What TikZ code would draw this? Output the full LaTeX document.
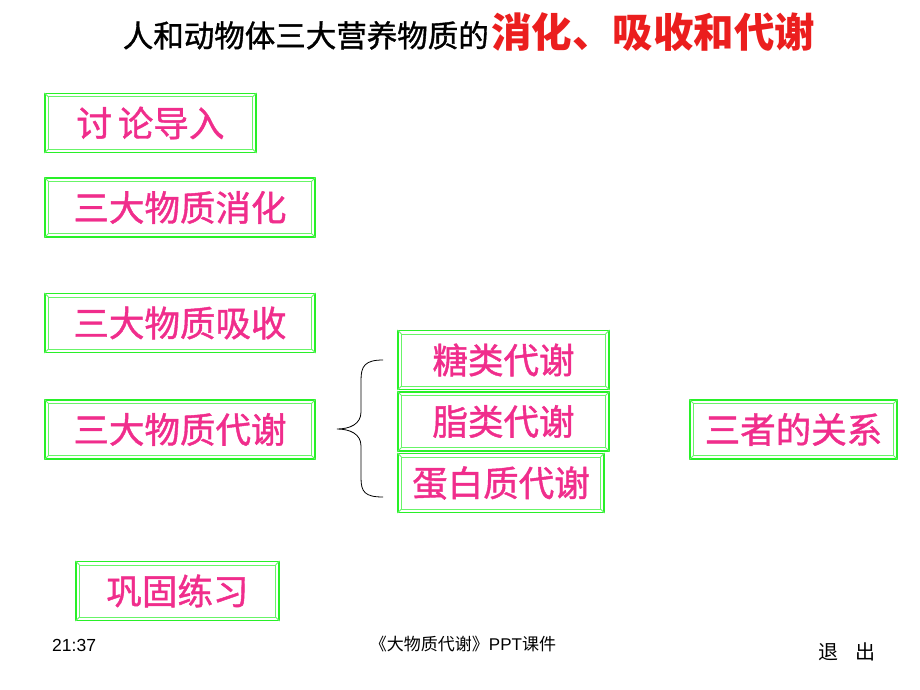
\documentclass[tikz,border=0pt]{standalone}
\usepackage{fontspec}
\setmainfont{Liberation Sans}
\newfontfamily\cjk{Noto Sans CJK SC}
\newfontfamily\cjkmid{Noto Sans CJK SC}[FakeBold=1.2]
\definecolor{boxgreen}{RGB}{40,240,40}
\definecolor{txtpink}{RGB}{240,45,140}
\definecolor{ttlred}{RGB}{235,30,30}
\tikzset{
  panel/.style={draw=boxgreen,line width=1.2pt,minimum height=59pt,inner sep=0pt,
    text=txtpink,font=\cjkmid\fontsize{35.5}{38}\selectfont},
  rim/.style={draw=boxgreen!70,line width=0.8pt}
}

\begin{document}
\begin{tikzpicture}[x=1pt,y=-1pt]
\useasboundingbox (0,0) rectangle (920,690);

% title
\node[anchor=base east,inner sep=1pt,font=\cjkmid\fontsize{30.5}{33}\selectfont] (ttl) at (490,47) {人和动物体三大营养物质的};
\node[anchor=base west,inner sep=1pt,font=\cjk\bfseries\fontsize{40.5}{43}\selectfont,text=ttlred] (ttlb) at (490,48) {消化、吸收和代谢};

% left column
\node[panel,minimum width=211] (intro) at (150.5,123) {讨\,论导入};
\node[panel,minimum width=270] (dig) at (180,207.5) {三大物质消化};
\node[panel,minimum width=270] (abs) at (180,323) {三大物质吸收};
\node[panel,minimum width=270] (met) at (180,429.5) {三大物质代谢};
\node[panel,minimum width=203] (prac) at (177.5,591) {巩固练习};

% middle column
\node[panel,minimum width=211] (sugar) at (503.5,360) {糖类代谢};
\node[panel,minimum width=211] (fat) at (503.5,421.5) {脂类代谢};
\node[panel,minimum width=206] (prot) at (501,483) {蛋白质代谢};

\node[panel,minimum width=207] (rel) at (793.5,429.5) {三者的关系};

% bevel frames
\foreach \n in {intro,dig,abs,met,prac,sugar,fat,prot,rel}
	{\draw[rim] ([shift={(4,4)}]\n.north west) rectangle ([shift={(-4,-4)}]\n.south east);
	\draw[rim] (\n.north west) -- ++(4,4);
	\draw[rim] (\n.north east) -- ++(-4,4);
	\draw[rim] (\n.south west) -- ++(4,-4);
	\draw[rim] (\n.south east) -- ++(-4,-4);}

% brace
\draw[line width=0.8pt] (383,360) .. controls (365,360) and (361,366) .. (361,380)
	-- (361,412) .. controls (361,424) and (350,429) .. (337,429)
	.. controls (350,429) and (361,434) .. (361,446)
	-- (361,478) .. controls (361,492) and (365,497) .. (383,497);

% footer
\node[anchor=base west,inner sep=0pt,font=\fontsize{17.5}{19}\selectfont] (clock) at (52,651) {21:37};
\node[font=\fontsize{17}{19}\selectfont] (foot) at (463,644) {\cjk 《大物质代谢》\normalfont PPT\cjk 课件};
\node[anchor=base west,inner sep=0pt,font=\cjk\fontsize{20}{22}\selectfont] (quit) at (818,659) {退\hspace{17pt}出};
\end{tikzpicture}
\end{document}
